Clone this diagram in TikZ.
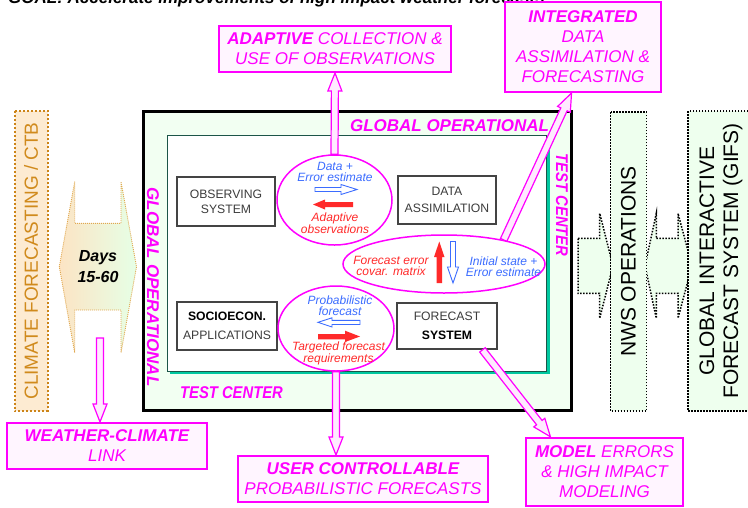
\documentclass[tikz,border=0pt]{standalone}
\usepackage{graphicx}
\usepackage{fontspec}
\setmainfont{Liberation Sans}
\usetikzlibrary{calc,shapes.geometric}
\definecolor{mag}{HTML}{FF00FF}
\definecolor{magfill}{HTML}{FFF5FF}
\definecolor{arrowfill}{HTML}{FFEAFF}
\definecolor{opgreen}{HTML}{F2FFF2}
\definecolor{nwsgreen}{HTML}{EEFFEE}
\definecolor{tealshadow}{HTML}{00C8A0}
\definecolor{innerline}{HTML}{1C5548}
\definecolor{climorange}{HTML}{CC8418}
\definecolor{climtext}{HTML}{D08A1C}
\definecolor{climfill}{HTML}{FDEBD2}
\definecolor{daysedge}{HTML}{E0A850}
\definecolor{daysorange}{HTML}{FCE4C4}
\definecolor{daysgreen}{HTML}{E6FFE6}
\definecolor{msgblue}{HTML}{3B6CFF}
\definecolor{msgred}{HTML}{FF2A2A}
\definecolor{boxgray}{HTML}{444444}
\definecolor{txtgray}{HTML}{3C3C3C}
\newcommand{\fsz}[2]{\fontsize{#1}{#2}\selectfont}
% hollow block arrow from one named point to another
\newcommand{\hollowlink}[2]{%
  \path let \p1=(#1), \p2=(#2), \n1={atan2(\y2-\y1,\x2-\x1)},
    \n2={veclen(\x2-\x1,\y2-\y1)} in \pgfextra{\xdef\linkang{\n1}\xdef\linklen{\n2}};
  \draw[link, shift={(#1)}, rotate=\linkang]
    (0,-3.5) -- ({\linklen-18},-3.5) -- ({\linklen-18},-7) -- (\linklen,0)
    -- ({\linklen-18},7) -- ({\linklen-18},3.5) -- (0,3.5) -- cycle;}
\begin{document}
\begin{tikzpicture}[x=1pt,y=-1pt,
  magbox/.style={draw=mag, line width=2pt, fill=magfill, text=mag, align=center,
    font=\fsz{17}{20}\itshape, inner sep=0pt, text depth=-6pt},
  sysbox/.style={draw=boxgray, line width=1.8pt, fill=white, align=center,
    text=txtgray, inner sep=0pt},
  msg/.style={ellipse, draw=mag, line width=1.5pt, fill=white, inner sep=0pt},
  note/.style={font=\fsz{12}{11}\itshape, inner sep=0pt, align=center, text depth=0pt},
  bluenote/.style={note, text=msgblue},
  rednote/.style={note, text=msgred},
  ringlabel/.style={text=mag, font=\fsz{17}{20}\bfseries\itshape, inner sep=0pt},
  hollow/.style={draw=msgblue, line width=0.9pt, fill=white, line join=miter},
  dotbox/.style={draw=black, line width=1.5pt, dash pattern=on 1.5pt off 1.5pt,
    fill=nwsgreen, inner sep=0pt},
  linkarrow/.style={draw=black, line width=1.5pt, dash pattern=on 1.5pt off 1.5pt,
    fill=nwsgreen},
  link/.style={draw=mag, line width=1.2pt, fill=arrowfill, line join=miter}
]
\useasboundingbox (0,0) rectangle (748,507);
\clip (0,0) rectangle (748,507);

% headline, partly above the page
\node[anchor=base west, inner sep=0pt, font=\fsz{17}{20}\bfseries\itshape] (goal)
  at (8,3) {GOAL: Accelerate improvements of high impact weather forecasts};

% climate column and the two-way "Days" arrow
\node[draw=climorange, line width=2pt, dash pattern=on 2pt off 2pt, fill=climfill,
  rotate=90, minimum width=300pt, minimum height=33pt, inner sep=0pt,
  text=climtext, font=\fsz{19}{22}] (climate) at (31,261) {CLIMATE FORECASTING / CTB};
\path[draw=daysedge, line width=0.9pt, dash pattern=on 1pt off 1pt,
  left color=daysorange, right color=daysgreen]
  (74.7,181.7) -- (74.7,223.3) -- (121,223.3) -- (121,181.7) -- (136.5,266.7)
  -- (121,352.7) -- (121,310) -- (74.7,310) -- (74.7,352.7) -- (59.3,266.7) -- cycle;
\node[font=\fsz{16}{21}\bfseries\itshape, align=center, inner sep=0pt] (days)
  at (98,267) {Days\\15-60};
\coordinate (daysfoot) at (100,338);

% links towards NWS operations and GIFS
\path[linkarrow] (578,238.3) -- (599.7,238.3) -- (599.7,213.3) -- (613,265.8)
  -- (599.7,318.3) -- (599.7,293.3) -- (578,293.3) -- cycle;
\path[linkarrow] (656.3,238.3) -- (678,238.3) -- (678,213.3) -- (692,265.8)
  -- (678,318.3) -- (678,293.3) -- (656.3,293.3) -- (656.3,318.3) -- (645,265.8)
  -- (656.3,213.3) -- cycle;

% test center frames
\node[draw=black, line width=3.5pt, fill=opgreen, minimum width=428pt,
  minimum height=299pt, inner sep=0pt] (outer) at (357.5,261) {};
\fill[tealshadow] (169.5,137.5) rectangle (549.5,374);
\node[draw=innerline, line width=1.2pt, fill=white, minimum width=379pt,
  minimum height=236pt, inner sep=0pt] (inner) at (357,253.5) {};

\node[ringlabel] (gotop) at (449.5,126) {GLOBAL OPERATIONAL};
\node[ringlabel, rotate=-90] (goleft) at (153,287) {GLOBAL OPERATIONAL};
\node[ringlabel, rotate=-90] (tcright) at (562,205) {\scalebox{0.87}[1]{TEST CENTER}};
\node[ringlabel] (tcbottom) at (231.5,393) {\scalebox{0.87}[1]{TEST CENTER}};

% the four systems
\node[sysbox, minimum width=98pt, minimum height=49pt, font=\fsz{12.2}{15}] (obs)
  at (226,201.5) {OBSERVING\\SYSTEM};
\node[sysbox, minimum width=98pt, minimum height=48pt, font=\fsz{12.2}{16.7}] (dass)
  at (447,200) {DATA\\ASSIMILATION};
\node[sysbox, minimum width=100pt, minimum height=48pt, font=\fsz{12.2}{19}] (socio)
  at (227,326) {\textcolor{black}{\bfseries SOCIOECON.}\\APPLICATIONS};
\node[sysbox, minimum width=100pt, minimum height=46pt, font=\fsz{12.2}{19}] (fsys)
  at (447,326) {FORECAST\\\textcolor{black}{\bfseries SYSTEM}};

% exchanges between the systems
\node[msg, minimum width=115pt, minimum height=90pt] (ell1) at (334.5,200) {};
\node[msg, minimum width=202pt, minimum height=58pt] (ell2) at (444,264) {};
\node[msg, minimum width=116pt, minimum height=85pt] (ell3) at (336,328.5) {};

\node[bluenote] (n1a) at (335,171.5) {Data +\\Error estimate};
\node[rednote] (n1b) at (335,223.3) {Adaptive\\observations};
\node[rednote] (n2a) at (391,266.3) {Forecast error\\covar. matrix};
\node[bluenote] (n2b) at (503.5,266.5) {Initial state +\\Error estimate};
\node[bluenote] (n3a) at (340,305.7) {Probabilistic\\forecast};
\node[rednote] (n3b) at (338.5,352.5) {Targeted forecast\\requirements};

\path[hollow] (315,187.5) -- (341,187.5) -- (341,184.5) -- (357,189.5) -- (341,194.5)
  -- (341,191.5) -- (315,191.5) -- cycle;
\fill[msgred] (313,204.5) -- (325,199.5) -- (325,202) -- (353,202) -- (353,207)
  -- (325,207) -- (325,209.5) -- cycle;
\fill[msgred] (439.3,241.5) -- (444.5,257) -- (442,257) -- (442,283) -- (436.7,283)
  -- (436.7,257) -- (434,257) -- cycle;
\path[hollow] (450.5,241.5) -- (455.5,241.5) -- (455.5,267) -- (458.5,267) -- (453,283)
  -- (447.5,267) -- (450.5,267) -- cycle;
\path[hollow] (318,322.3) -- (332,317.8) -- (332,320.3) -- (360,320.3) -- (360,324.5)
  -- (332,324.5) -- (332,327) -- cycle;
\fill[msgred] (318,334) -- (345,334) -- (345,330.7) -- (360,336.5) -- (345,342)
  -- (345,339.3) -- (318,339.3) -- cycle;

% operational columns
\node[dotbox, rotate=90, minimum width=299pt, minimum height=36pt, font=\fsz{21}{24}]
  (nws) at (628.5,261.5) {NWS OPERATIONS};
\node[dotbox, rotate=90, minimum width=300pt, minimum height=66pt, align=center,
  font=\fsz{21}{24}] (gifs) at (721,261) {GLOBAL INTERACTIVE\\FORECAST SYSTEM (GIFS)};

% goals
\node[magbox, minimum width=232pt, minimum height=46pt] (adapt) at (335,49)
  {\textbf{ADAPTIVE} COLLECTION \&\\USE OF OBSERVATIONS};
\node[magbox, minimum width=156pt, minimum height=90pt, text depth=-2pt] (integ) at (583,47)
  {\textbf{INTEGRATED}\\DATA\\ASSIMILATION \&\\FORECASTING};
\node[magbox, minimum width=200pt, minimum height=46pt] (weather) at (107,446)
  {\textbf{WEATHER-CLIMATE}\\LINK};
\node[magbox, minimum width=250pt, minimum height=46pt] (user) at (363,479)
  {\textbf{USER CONTROLLABLE}\\PROBABILISTIC FORECASTS};
\node[magbox, minimum width=157pt, minimum height=68pt] (model) at (604.5,472)
  {\textbf{MODEL} ERRORS\\\& HIGH IMPACT\\MODELING};

% connectors
\hollowlink{ell1.north}{adapt.south}
\hollowlink{ell2.22}{integ.-104}
\hollowlink{fsys.-34}{model.147}
\hollowlink{daysfoot}{weather.north -| daysfoot}
\hollowlink{ell3.south}{user.north -| ell3.south}
\end{tikzpicture}
\end{document}
